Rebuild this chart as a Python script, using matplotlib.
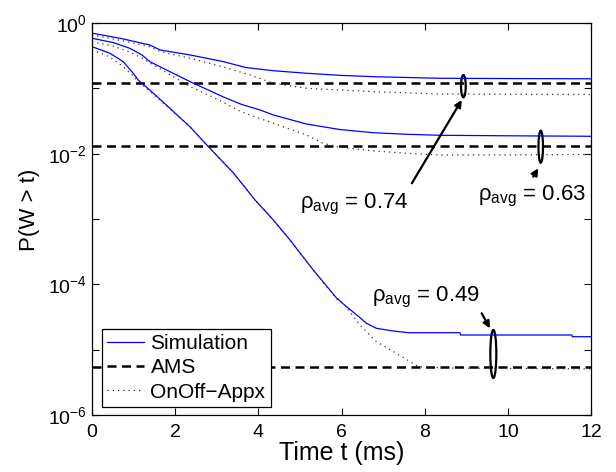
import numpy as np
import matplotlib
matplotlib.use("Agg")
import matplotlib.pyplot as plt
from matplotlib.patches import Ellipse
from matplotlib.transforms import ScaledTranslation
from matplotlib.ticker import FixedLocator, FuncFormatter

plt.rcParams['font.family'] = ['Liberation Sans', 'DejaVu Sans']
plt.rcParams['mathtext.fontset'] = 'custom'
plt.rcParams['mathtext.rm'] = 'Liberation Sans'
plt.rcParams['mathtext.it'] = 'Liberation Sans:italic'
plt.rcParams['mathtext.bf'] = 'Liberation Sans:bold'

# ---------------- data ----------------
# rho_avg = 0.74
t_sim_074 = [0, 0.7, 1.39, 1.64, 2.36, 3.16, 3.7, 4.36, 5.16, 5.96, 6.77, 8.37, 10, 12]
p_sim_074 = [0.70, 0.579, 0.460, 0.386, 0.324, 0.256, 0.208, 0.186, 0.170, 0.158,
             0.1507, 0.1424, 0.141, 0.140]
t_app_074 = [0, 0.7, 1.39, 1.64, 2.36, 3.16, 3.8, 4.36, 5.16, 5.96, 6.77, 8.37, 10, 12]
p_app_074 = [0.655, 0.540, 0.434, 0.364, 0.288, 0.212, 0.160, 0.1194, 0.1001, 0.0943,
             0.0888, 0.0819, 0.0810, 0.0804]
ams_074 = 0.122

# rho_avg = 0.63
t_sim_063 = [0, 0.5, 0.91, 1.2, 1.39, 1.8, 2.36, 3.16, 3.6, 4.04, 4.36, 5.16, 5.96,
             6.77, 7.57, 8.37, 10, 12]
p_sim_063 = [0.583, 0.503, 0.410, 0.324, 0.256, 0.1895, 0.1263, 0.0737, 0.0566, 0.0466,
             0.0391, 0.0284, 0.0234, 0.0209, 0.0198, 0.0191, 0.01877, 0.01845]
t_app_063 = [0, 0.5, 0.9, 1.2, 1.55, 2.36, 3.0, 3.6, 4.36, 5.16, 5.56, 5.96, 6.77,
             7.57, 8.37, 10, 12]
p_app_063 = [0.517, 0.445, 0.360, 0.291, 0.214, 0.106, 0.0687, 0.0434, 0.0292, 0.0193,
             0.0144, 0.01252, 0.0110, 0.01013, 0.00954, 0.0096, 0.0097]
ams_063 = 0.0131

# rho_avg = 0.49
t_sim_049 = [0, 0.43, 0.75, 0.99, 1.11, 1.55, 2.36, 2.76, 3.4, 3.92, 4.36, 4.76, 5.32,
             5.88, 6.1, 6.44, 6.6, 6.84, 7.25, 7.61, 8.85, 8.86, 11.54, 11.55, 12]
p_sim_049 = [0.434, 0.344, 0.256, 0.170, 0.134, 0.0763, 0.0256, 0.01357, 0.00506,
             0.001954, 9.65e-4, 4.77e-4, 1.656e-4, 6.17e-5, 4.66e-5, 3.10e-5, 2.53e-5,
             2.12e-5, 1.93e-5, 1.817e-5, 1.817e-5, 1.676e-5, 1.676e-5, 1.578e-5, 1.578e-5]
t_app_049 = [0, 0.43, 0.75, 0.99, 1.11, 1.55, 2.36, 2.76, 3.4, 3.92, 4.36, 4.76, 5.32,
             5.88, 6.04, 6.2, 6.44, 6.84, 7.25, 7.65, 7.85, 8.5, 12]
p_app_049 = [0.386, 0.302, 0.214, 0.1545, 0.1263, 0.0737, 0.0256, 0.01357, 0.00506,
             0.001954, 9.65e-4, 4.77e-4, 1.656e-4, 6.0e-5, 5.18e-5, 3.77e-5, 2.39e-5,
             1.324e-5, 9.31e-6, 6.55e-6, 5.48e-6, 5.24e-6, 5.06e-6]
ams_049 = 5.5e-6

x_range = [0, 12]
x_ticks = [0, 2, 4, 6, 8, 10, 12]
y_decades = [-6, -5, -4, -3, -2, -1, 0]

# annotations
ann_labels = ['0.74', '0.63', '0.49']
ann_text_pos = [(5.0, 1.46e-3), (9.28, 1.95e-3), (6.73, 5.42e-5)]
ann_arrow_from = [(7.69, 3.52e-3), (10.61, 4.44e-3), (9.37, 3.60e-5)]
ann_arrow_to = [(8.89, 0.0662), (10.73, 5.97e-3), (9.57, 2.12e-5)]
ell_center = [(8.93, 0.1078), (10.79, 0.01278), (9.65, 8.58e-6)]
ell_size = [(0.047, 0.223), (0.045, 0.32), (0.06, 0.48)]

# ---------------- plot ----------------
fig = plt.figure(figsize=(6.16, 4.72), dpi=100)
ax = fig.add_axes([0.1494, 0.1208, 0.8101, 0.8305])

blue = '#0000ff'
sim_kw = dict(color=blue, lw=0.9)
ams_kw = dict(color='black', lw=1.8, dashes=(3.6, 2.2))
app_kw = dict(color='0.2', lw=0.9, dashes=(1.0, 3.2))

ax.plot(t_sim_074, p_sim_074, label='Simulation', **sim_kw)
ax.plot(x_range, [ams_074, ams_074], label='AMS', **ams_kw)
ax.plot(t_app_074, p_app_074, label='OnOff\u2212Appx', **app_kw)
ax.plot(t_sim_063, p_sim_063, **sim_kw)
ax.plot(x_range, [ams_063, ams_063], **ams_kw)
ax.plot(t_app_063, p_app_063, **app_kw)
ax.plot(t_sim_049, p_sim_049, **sim_kw)
ax.plot(x_range, [ams_049, ams_049], **ams_kw)
ax.plot(t_app_049, p_app_049, **app_kw)

ax.set_yscale('log')
ax.set_xlim(*x_range)
ax.set_ylim(10.0 ** y_decades[0], 10.0 ** y_decades[-1])
ax.xaxis.set_major_locator(FixedLocator(x_ticks))
ax.yaxis.set_major_locator(FixedLocator([10.0 ** d for d in y_decades]))
ax.yaxis.set_minor_locator(FixedLocator([]))


def yfmt(v, pos):
    e = int(round(np.log10(v)))
    if e % 2 == 0:
        return '$10^{%d}$' % e
    return ''


ax.yaxis.set_major_formatter(FuncFormatter(yfmt))
ax.tick_params(which='both', direction='in', top=True, right=True, length=5,
               width=0.8, labelsize=14)
ax.tick_params(axis='x', pad=6.5)
ax.tick_params(axis='y', pad=4)
for s in ax.spines.values():
    s.set_linewidth(0.9)

ax.set_xlabel('Time t (ms)', fontsize=18, labelpad=0)
ax.set_ylabel('P(W > t)', fontsize=16)
ax.yaxis.set_label_coords(-0.104, 0.523)

for lab, tp, a0, a1, ec, es in zip(ann_labels, ann_text_pos, ann_arrow_from,
                                   ann_arrow_to, ell_center, ell_size):
    ax.text(tp[0], tp[1], '\u03c1$_{\\mathrm{avg}}$ = ' + lab, fontsize=16,
            ha='left', va='baseline')
    ax.annotate('', xy=a1, xytext=a0,
                arrowprops=dict(arrowstyle='-|>', color='black', lw=1.6,
                                mutation_scale=10, shrinkA=0, shrinkB=0))
    e = Ellipse((0, 0), es[0], es[1], fill=False, ec='black', lw=1.6,
                transform=fig.dpi_scale_trans + ScaledTranslation(ec[0], ec[1], ax.transData))
    ax.add_patch(e)

leg = ax.legend(loc='lower left', bbox_to_anchor=(0.019, 0.021), borderaxespad=0,
                fontsize=15, frameon=True, fancybox=False, edgecolor='black',
                framealpha=1, handlelength=1.8, handletextpad=0.3,
                labelspacing=0.25, borderpad=0.25)
leg.get_frame().set_linewidth(0.9)

fig.savefig('out.png', dpi=100)
